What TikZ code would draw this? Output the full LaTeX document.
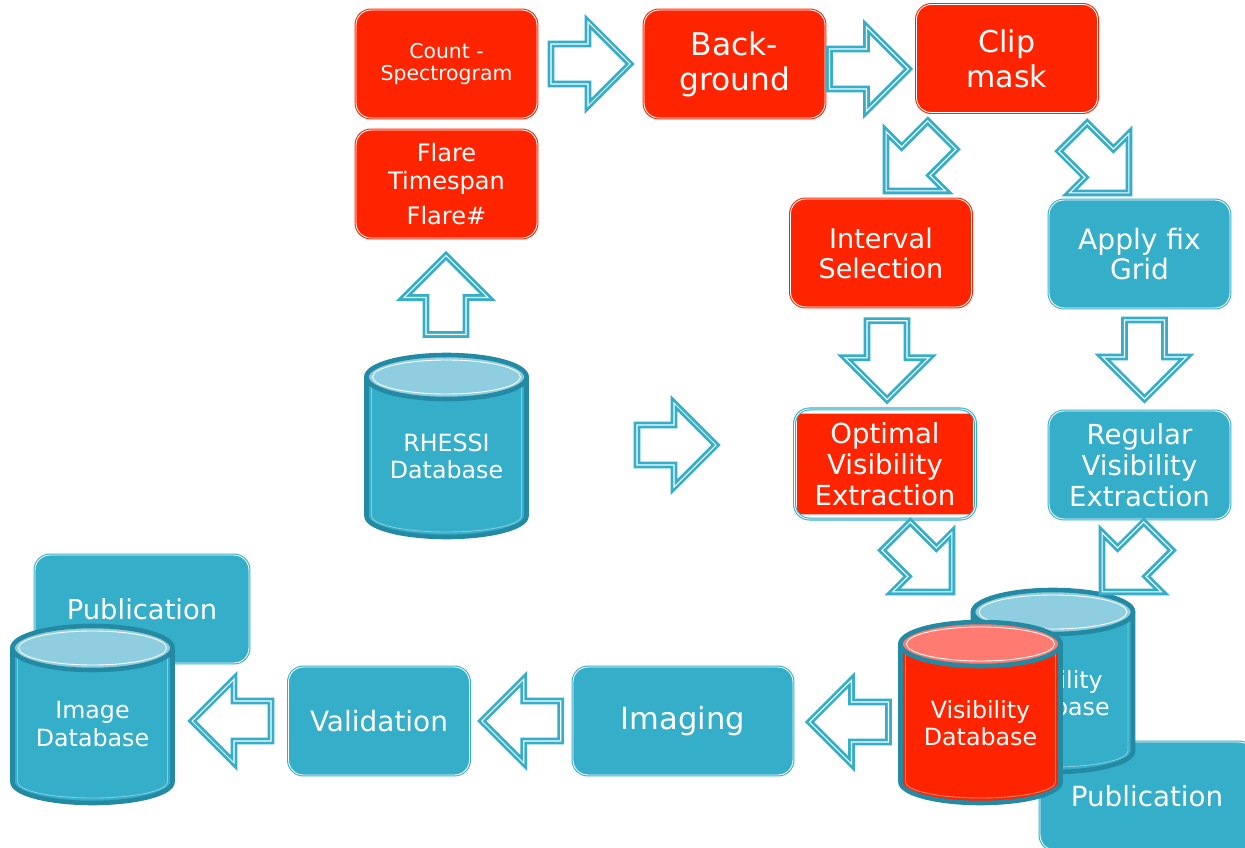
\documentclass[tikz,border=0pt]{standalone}
\usepackage{fontspec}
\setmainfont{DejaVu Sans}
\usetikzlibrary{calc}
\definecolor{boxred}{RGB}{255,36,0}
\definecolor{boxblue}{RGB}{52,174,201}
\definecolor{drumdark}{RGB}{36,138,163}
\definecolor{drumtop}{RGB}{142,206,224}
\definecolor{drumredtop}{RGB}{255,122,112}
\definecolor{drumlight}{RGB}{130,205,225}
\definecolor{drumredlight}{RGB}{255,130,110}

\tikzset{
  box/.style={rounded corners=0.3cm, minimum width=3.62cm, minimum height=2.16cm,
    inner sep=0pt, align=center, text=white, double=white, double distance=0.5pt, line width=0.6pt},
  redbox/.style={box, draw=boxred, fill=boxred},
  bluebox/.style={box, draw=boxblue, fill=boxblue},
  blueedge/.style={draw=boxblue, double=white, double distance=0.5pt, line width=0.6pt, rounded corners=0.3cm},
  arrowline/.style={draw=boxblue, fill=white, line width=1.6pt, double=white, double distance=0.6pt, line join=miter},
  drumline/.style={draw=drumdark, line width=2.6pt},
  drumtext/.style={text=white, align=center, font=\fontsize{13.5}{15.5}\selectfont},
  blockarrow/.pic={
    \draw[arrowline] (-39.5,-20) -- (-2.5,-20) -- (-2.5,-42) -- (39.5,0) -- (-2.5,42) -- (-2.5,20) -- (-39.5,20) -- cycle;
  }
}

% database drum: centre x, top y, bottom y, body colour, top colour, inner line colour
\newcommand{\dbdrum}[6]{%
  \filldraw[drumline, fill=#4] (#1-80,#2) -- (#1-80,#3) arc (180:360:80 and 21) -- (#1+80,#2) arc (0:180:80 and 21) -- cycle;
  \draw[#6, line width=0.5pt] (#1-75,#2) -- (#1-75,#3) arc (180:360:75 and 16) -- (#1+75,#2);
  \filldraw[drumline, fill=#5] (#1,#2) ellipse (80 and 22);
  \draw[white, line width=0.5pt] (#1,#2) ellipse (74 and 17);
}

\begin{document}
\begin{tikzpicture}[x=0.02cm, y=0.02cm]
\useasboundingbox (0,0) rectangle (1245,-848);
\clip (0,0) rectangle (1245,-848);

% top row
\node[redbox, font=\fontsize{11.6}{13}\selectfont] (count) at (446.5,-64) {Count -\\Spectrogram};
\node[redbox, font=\fontsize{13.7}{16}\selectfont] (flare) at (446.5,-184) {Flare\\Timespan\\[4pt]Flare\#};
\node[redbox, font=\fontsize{17.8}{20}\selectfont] (back) at (734.5,-64) {Back-\\ground};
\node[redbox, font=\fontsize{17.1}{20}\selectfont] (clip) at (1007,-58.5) {Clip\\mask};

% middle columns
\node[redbox, font=\fontsize{15.4}{17}\selectfont] (interval) at (881,-253) {Interval\\Selection};
\node[bluebox, font=\fontsize{16}{17}\selectfont] (apply) at (1139.5,-254) {Apply fix\\Grid};
\node[redbox, draw=none, rounded corners=1pt, minimum width=3.52cm, minimum height=2.02cm,
  font=\fontsize{15.7}{17.6}\selectfont] (optimal) at (885,-464) {Optimal\\Visibility\\Extraction};
\draw[blueedge] ([shift={(-2,4)}]optimal.north west) rectangle ([shift={(2,-4)}]optimal.south east);
\node[bluebox, font=\fontsize{15.7}{17.6}\selectfont] (regular) at (1139.5,-465) {Regular\\Visibility\\Extraction};

% bottom row
\node[bluebox, minimum width=4.28cm, font=\fontsize{15.6}{17}\selectfont] (publeft) at (142,-609) {Publication};
\node[bluebox, font=\fontsize{15.9}{17}\selectfont] (validation) at (379,-721) {Validation};
\node[bluebox, minimum width=4.4cm, font=\fontsize{17.4}{19}\selectfont] (imaging) at (683,-721) {Imaging};
\node[bluebox, minimum width=4.28cm, font=\fontsize{15.8}{17}\selectfont] (pubright) at (1147,-796) {Publication};

% databases
\dbdrum{446.5}{-377}{-516}{boxblue}{drumtop}{drumlight}
\node[drumtext] (rhessi) at (446.5,-456) {RHESSI\\Database};
\dbdrum{92.5}{-648}{-782}{boxblue}{drumtop}{drumlight}
\node[drumtext] (imagedb) at (92.5,-724) {Image\\Database};
\dbdrum{1053}{-612}{-751}{boxblue}{drumtop}{drumlight}
\node[drumtext] (regvis) at (1053,-693) {Visibility\\Database};
\dbdrum{980.5}{-644}{-782}{boxred}{drumredtop}{drumredlight}
\node[drumtext] (optvis) at (980.5,-723) {Visibility\\Database};

% block arrows
\pic at ($(count.east)!0.5!(back.west)$) {blockarrow};
\pic at (869,-69) {blockarrow};
\pic[rotate=225] at (914,-163) {blockarrow};
\pic[rotate=-45] at (1101,-165) {blockarrow};
\pic[rotate=90] at (446,-295) {blockarrow};
\pic at (676.5,-445) {blockarrow};
\pic[rotate=-90] at ($(interval.south)!0.5!(optimal.north)+(4,0)$) {blockarrow};
\pic[rotate=-90] at ($(apply.south)!0.5!(regular.north)+(5,0)$) {blockarrow};
\pic[rotate=-45] at (924,-564) {blockarrow};
\pic[rotate=225] at (1130,-564) {blockarrow};
\pic[rotate=180] at (849,-722) {blockarrow};
\pic[rotate=180] at ($(validation.east)!0.5!(imaging.west)$) {blockarrow};
\pic[rotate=180] at (231.5,-721) {blockarrow};
\end{tikzpicture}
\end{document}
